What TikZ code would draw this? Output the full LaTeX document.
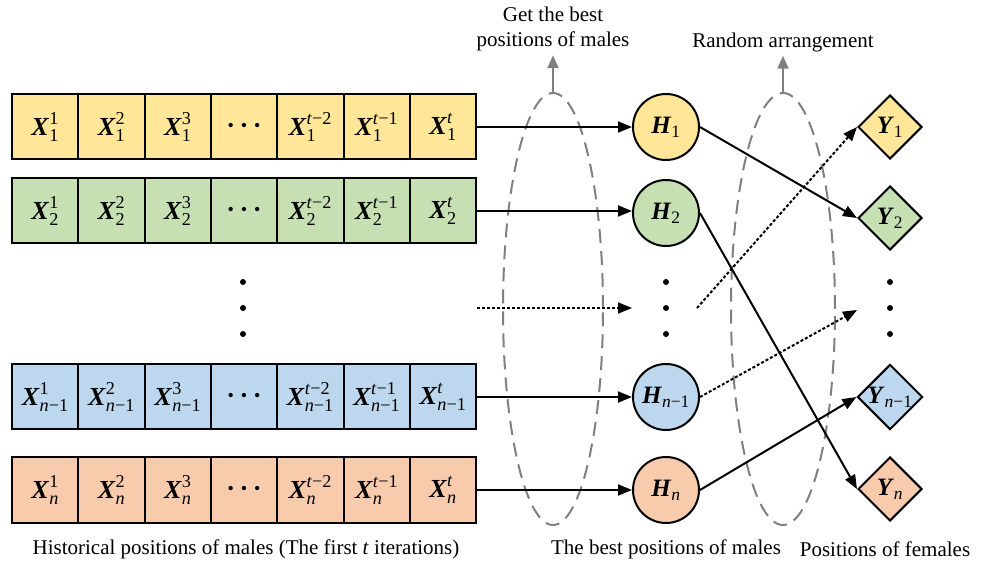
\documentclass[tikz,border=0pt]{standalone}
\usepackage{amsmath}
\usepackage{graphicx}
\usepackage{fontspec}
\setmainfont{Liberation Serif}
\usetikzlibrary{positioning,chains,shapes.geometric,arrows.meta}

\definecolor{cyellow}{HTML}{FFE699}
\definecolor{cgreen}{HTML}{C6E0B4}
\definecolor{cblue}{HTML}{BDD7EE}
\definecolor{corange}{HTML}{F8CBAD}
\definecolor{cgray}{RGB}{128,128,128}

\newcommand{\xv}[3]{$\textbf{\textit{#1}}^{\text{#3}}_{\text{#2}}$}
\newcommand{\hv}[2]{$\textbf{\textit{#1}}_{\text{#2}}$}

\begin{document}
\begin{tikzpicture}[x=1pt, y=-1pt,
    every node/.style={font=\fontsize{21}{25}\selectfont},
    cell/.style={draw, line width=2pt, minimum width=66.3pt, minimum height=65pt,
      inner sep=0pt, outer sep=0pt, node distance=0pt,
      font=\fontsize{26}{26}\selectfont},
    best/.style={circle, draw, line width=2pt, minimum size=66pt, inner sep=0pt,
      font=\fontsize{25}{25}\selectfont},
    fem/.style={diamond, draw, line width=2pt, minimum width=64pt, minimum height=64pt,
      inner sep=0pt, aspect=1, font=\fontsize{25}{25}\selectfont},
    vdot/.style={circle, fill, inner sep=0pt, minimum size=6pt},
    ring/.style={ellipse, draw=cgray, line width=2pt, dash pattern=on 14pt off 8pt},
    arr/.style={line width=2pt, -{Triangle[length=14pt, width=11pt]}},
    dotarr/.style={arr, dash pattern=on 3pt off 2pt},
    garr/.style={line width=2.2pt, draw=cgray, -{Triangle[length=13pt, width=11pt]}, shorten >=3pt}]
  \useasboundingbox (0,0) rectangle (989,569);

  % historical positions, one row per male
  \foreach \r/\yy/\col/\sub in {1/127/cyellow/1, 2/211/cgreen/2,
      m/397/cblue/{\textit{n}−1}, n/490/corange/\textit{n}}{
    \begin{scope}[start chain=going right, every node/.append style={cell, fill=\col, on chain}]
      \node (x\r-1) at (45.2,\yy) {\xv{X}{\sub}{1}};
      \node (x\r-2) {\xv{X}{\sub}{2}};
      \node (x\r-3) {\xv{X}{\sub}{3}};
      \node (x\r-4) {\fontsize{18}{18}\selectfont •\hspace{7pt}•\hspace{7pt}•};
      \node (x\r-5) {\xv{X}{\sub}{\textit{t}−2}};
      \node (x\r-6) {\xv{X}{\sub}{\textit{t}−1}};
      \node (x\r-7) {\xv{X}{\sub}{\textit{t}}};
    \end{scope}
  }

  % best positions
  \node [best, fill=cyellow] (h1) at (666,127) {\hv{H}{1}};
  \node [best, fill=cgreen] (h2) at (666,213) {\hv{H}{2}};
  \node [best, fill=cblue] (hm) at (666,397) {\hv{H}{\textit{n}−1}};
  \node [best, fill=corange] (hn) at (666,490) {\hv{H}{\textit{n}}};

  % females
  \node [fem, fill=cyellow] (y1) at (890,127) {\hv{Y}{1}};
  \node [fem, fill=cgreen] (y2) at (890,218) {\hv{Y}{2}};
  \node [fem, fill=cblue] (ym) at (890,397) {\hv{Y}{\textit{n}−1}};
  \node [fem, fill=corange] (yn) at (890,489) {\hv{Y}{\textit{n}}};

  % vertical dots
  \foreach \xx/\c in {243/x, 666/h, 890/y}
    \foreach \yy [count=\k] in {282,308,334}
      \node [vdot] (\c dot\k) at (\xx,\yy) {};

  % dashed rings and their labels
  \node [ring, minimum width=100pt, minimum height=432pt] (e1) at (553,309) {};
  \node [ring, minimum width=104pt, minimum height=432pt] (e2) at (783,309) {};
  \node [align=center, inner sep=1pt] (t1) at (553,29) {Get the best\\positions of males};
  \node [inner sep=1pt] (t2) at (783,42) {Random arrangement};
  \draw [garr] (e1.north) -- (t1.south);
  \draw [garr] (e2.north) -- (t2.south);

  % connectors
  \draw [arr] (x1-7) -- (h1);
  \draw [arr] (x2-7) -- (h2.west |- x2-7);
  \draw [arr] (xm-7) -- (hm);
  \draw [arr] (xn-7) -- (hn);

  \coordinate (lin) at (477,308);
  \coordinate (lout) at (632,308);
  \draw [dotarr] (lin) -- (lout);

  \draw [arr] (h1.east) -- (y2.west);
  \draw [arr] (h2.east) -- (yn.west);
  \draw [arr] (hn.east) -- (ym.west);

  \coordinate (min) at (697,308);
  \coordinate (mout) at (857,310);
  \draw [dotarr] (hm.east) -- (mout);
  \draw [dotarr] (min) -- (y1.west);

  % captions
  \node (c1) at (246,549) {Historical positions of males (The first \textit{t} iterations)};
  \node (c2) at (666,549) {The best positions of males};
  \node (c3) at (885,549) {Positions of females};
\end{tikzpicture}
\end{document}
